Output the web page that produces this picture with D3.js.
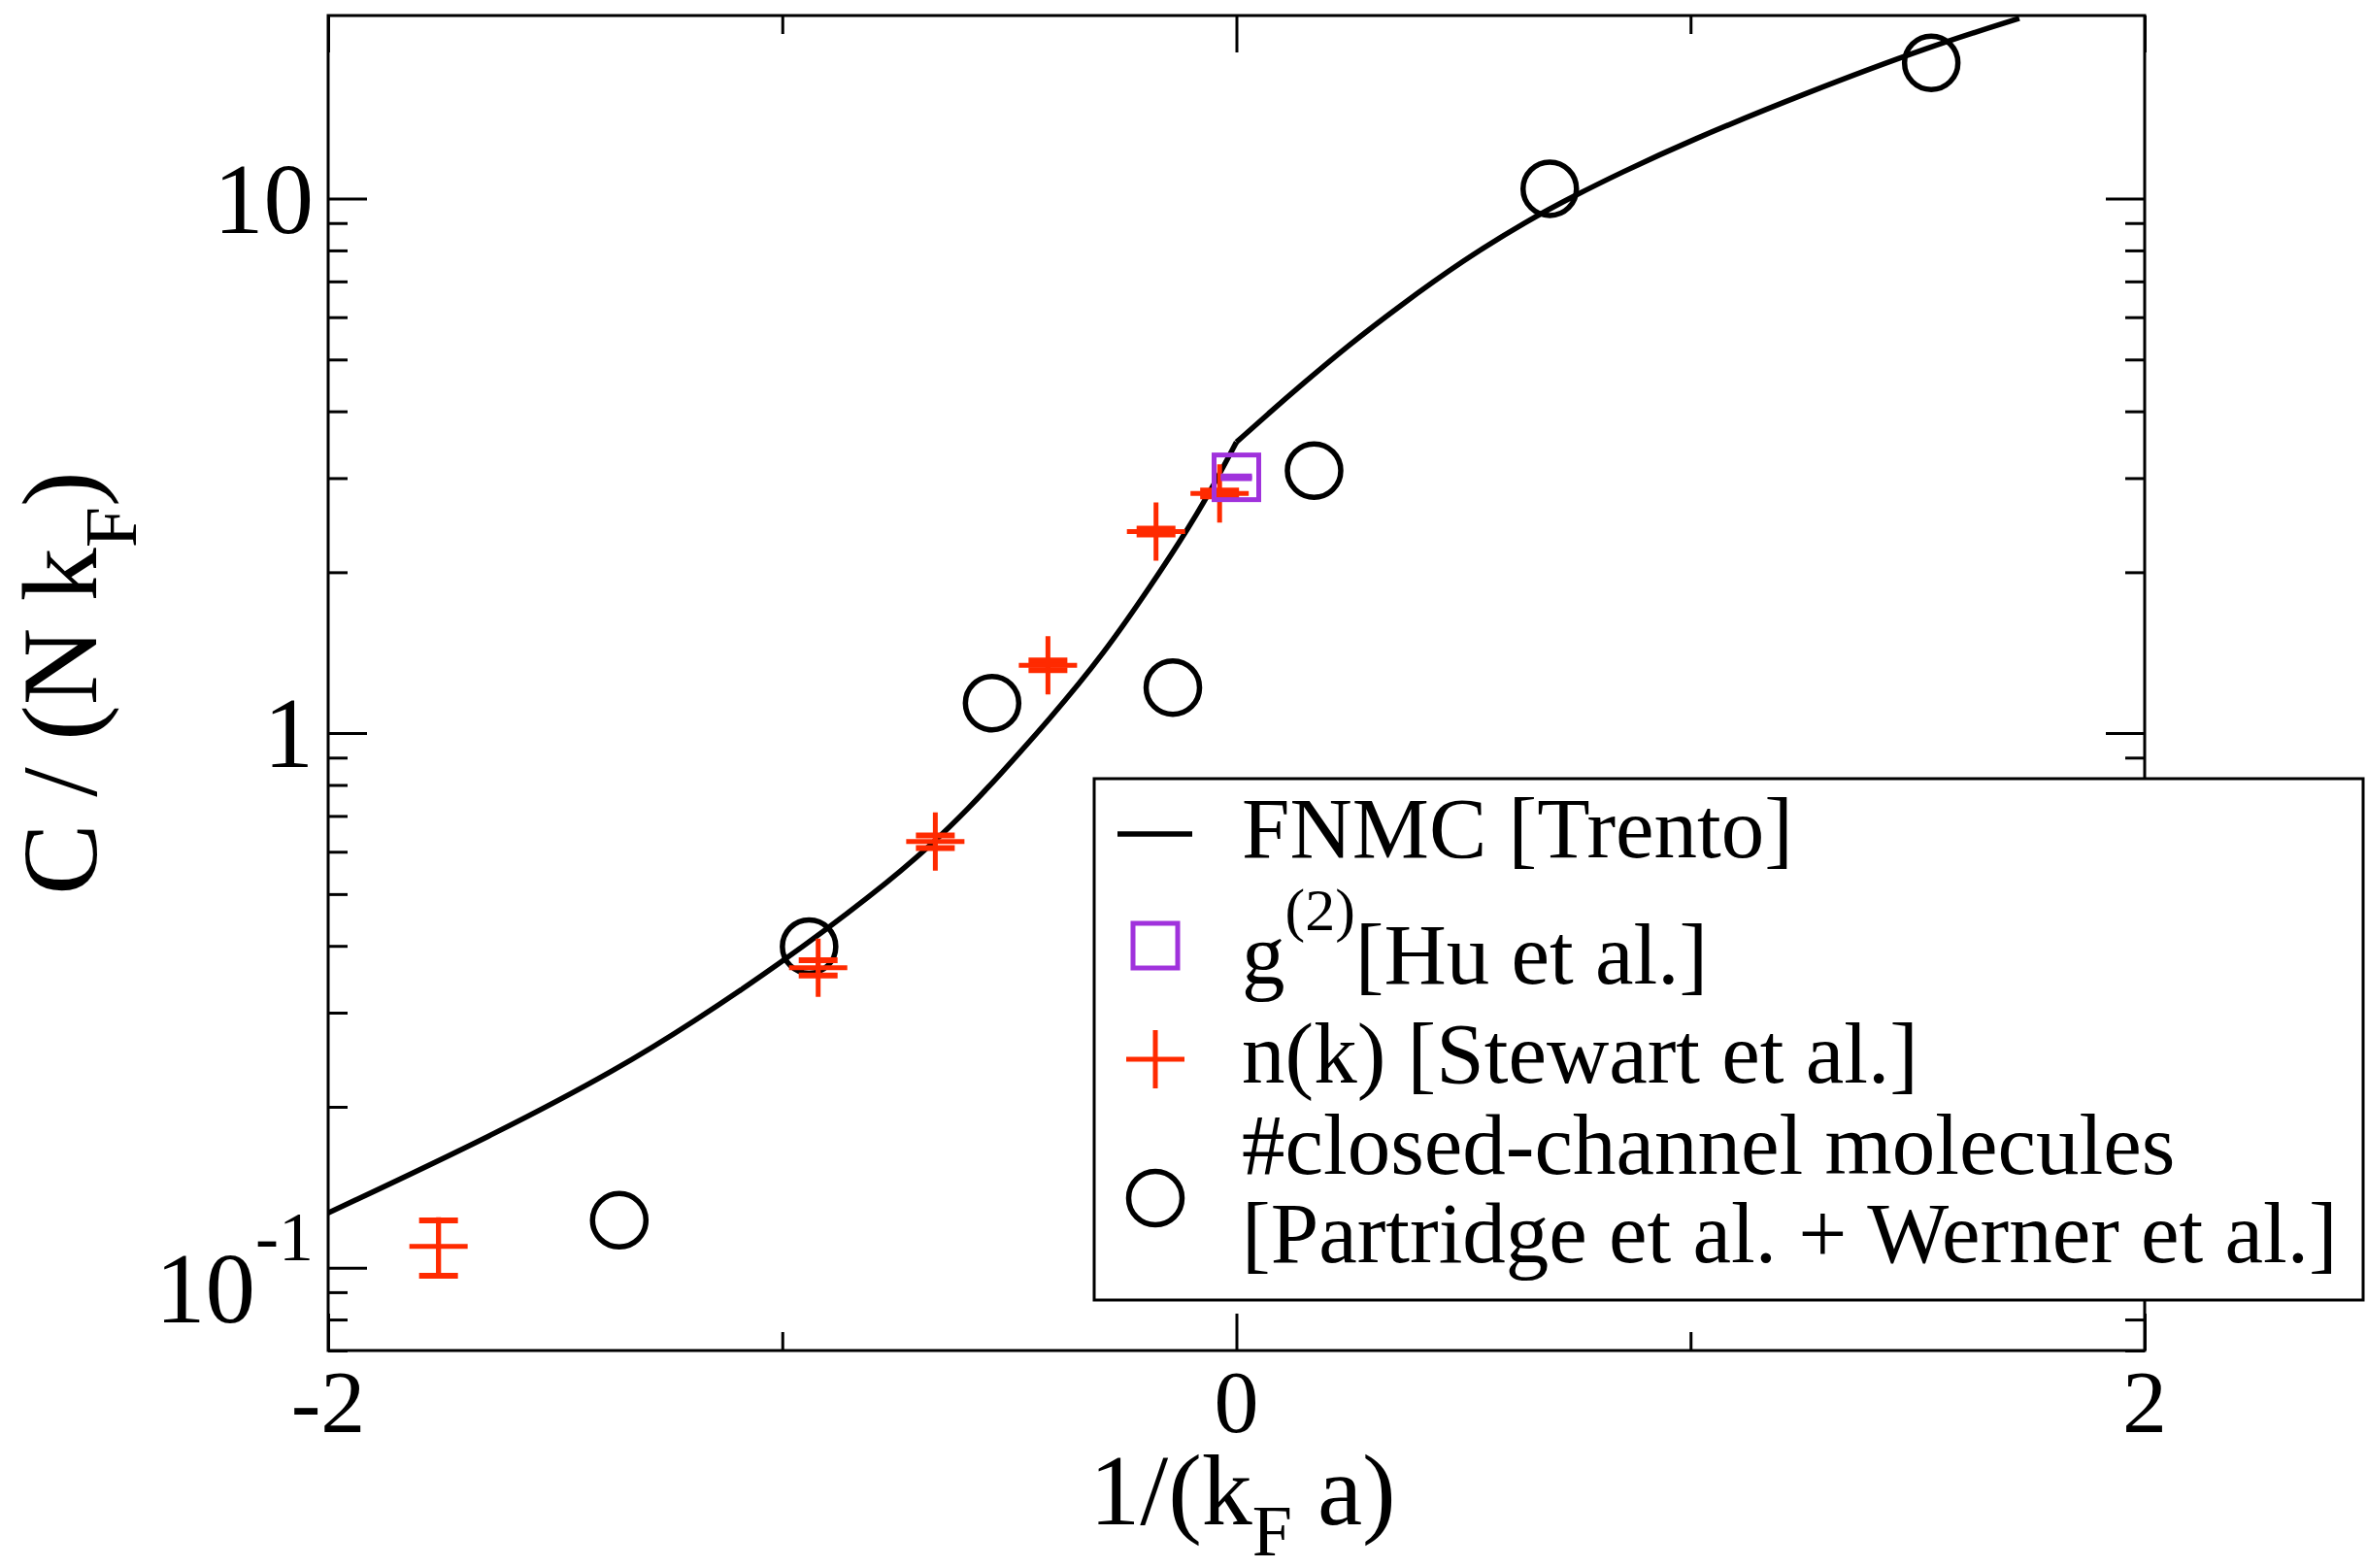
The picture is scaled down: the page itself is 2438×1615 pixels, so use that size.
<!DOCTYPE html>
<html>
<head>
<meta charset="utf-8">
<script src="https://cdn.jsdelivr.net/npm/d3@7"></script>
<style>
     body { margin: 0; background: #fff; }
     svg text { font-family: 'Liberation Serif', 'Times New Roman', serif; fill: #000; }
</style>
</head>
<body>
<div id="chart"></div>
<script>
// ── data ─────────────────────────────────────────────────
// FNMC curve, BCS side (up to unitarity) and BEC side (from unitarity)
const fnmcBcsX = [-2.0, -1.632, -1.359, -1.196, -1.012, -0.799, -0.664, -0.585, -0.532, -0.410, -0.293, -0.183, -0.125, -0.086, -0.050, 0.0];
const fnmcBcsY = [0.1266, 0.1777, 0.2361, 0.2881, 0.3667, 0.4995, 0.6261, 0.7311, 0.8157, 1.065, 1.403, 1.917, 2.280, 2.581, 2.911, 3.503];
const fnmcBecX = [0.0, 0.071, 0.142, 0.249, 0.356, 0.499, 0.641, 0.748, 0.841, 0.995, 1.252, 1.530, 1.724];
const fnmcBecY = [3.503, 3.964, 4.473, 5.335, 6.266, 7.665, 9.095, 10.16, 11.12, 12.80, 15.74, 19.30, 21.73];

// g(2) [Hu et al.]
const huX = [0.0];
const huY = [3.01];
const huErr = [0.01];

// n(k) [Stewart et al.]
const nkX = [-1.757, -0.921, -0.663, -0.415, -0.177, -0.037];
const nkY = [0.1096, 0.3641, 0.6268, 1.340, 2.382, 2.807];
const nkErr = [0.013, 0.012, 0.017, 0.028, 0.030, 0.035];

// #closed-channel molecules [Partridge + Werner]
const molX = [-1.359, -0.941, -0.538, -0.140, 0.171, 0.690, 1.530];
const molY = [0.1227, 0.3989, 1.138, 1.217, 3.099, 10.43, 17.95];

// ticks
const xMajor = [-2, 0, 2];
const xMinor = [-1, 1];
const yMajor = [0.1, 1, 10];
const yMinor = [0.07, 0.08, 0.09, 0.2, 0.3, 0.4, 0.5, 0.6, 0.7, 0.8, 0.9, 2, 3, 4, 5, 6, 7, 8, 9];
const yLabels = [{ v: 0.1, base: '10', sup: '-1' }, { v: 1, base: '1' }, { v: 10, base: '10' }];

const legendLabels = ['FNMC [Trento]', 'g', '[Hu et al.]', 'n(k) [Stewart et al.]',
     '#closed-channel molecules', '[Partridge et al. + Werner et al.]'];

const RED = '#ff2a00', PURPLE = '#a032dc';

// ── layout ───────────────────────────────────────────────
const W = 2438, H = 1615;
const P = { left: 338, right: 2209, top: 16, bottom: 1391 };

const x = d3.scaleLinear().domain([-2, 2]).range([P.left, P.right]);
const y = d3.scaleLog().domain([0.07, 22]).range([P.bottom, P.top]);

const svg = d3.select('#chart').append('svg')
     .attr('width', W).attr('height', H)
     .attr('viewBox', `0 0 ${W} ${H}`);

svg.append('rect').attr('width', W).attr('height', H).attr('fill', '#fff');

svg.append('clipPath').attr('id', 'plot-clip')
     .append('rect')
     .attr('x', P.left).attr('y', P.top)
     .attr('width', P.right - P.left).attr('height', P.bottom - P.top);

// ── ticks (inward, mirrored on all four sides) ───────────
function tickAxis(axisFn, scale, values, size, tx, ty) {
     const g = svg.append('g')
          .attr('transform', `translate(${tx},${ty})`)
          .call(axisFn(scale).tickValues(values).tickSizeInner(size).tickSizeOuter(0).tickFormat(''));
     g.select('.domain').remove();
     g.selectAll('line').attr('stroke', '#000').attr('stroke-width', 3);
}
tickAxis(d3.axisBottom, x, xMajor, -38, 0, P.bottom);
tickAxis(d3.axisBottom, x, xMinor, -19, 0, P.bottom);
tickAxis(d3.axisTop, x, xMajor, -38, 0, P.top);
tickAxis(d3.axisTop, x, xMinor, -19, 0, P.top);
tickAxis(d3.axisLeft, y, yMajor, -40, P.left, 0);
tickAxis(d3.axisLeft, y, yMinor, -20, P.left, 0);
tickAxis(d3.axisRight, y, yMajor, -40, P.right, 0);
tickAxis(d3.axisRight, y, yMinor, -20, P.right, 0);

svg.append('rect')
     .attr('x', P.left).attr('y', P.top)
     .attr('width', P.right - P.left).attr('height', P.bottom - P.top)
     .attr('fill', 'none').attr('stroke', '#000').attr('stroke-width', 3);

// ── tick labels ──────────────────────────────────────────
svg.selectAll('.xlbl')
     .data(xMajor)
     .join('text')
     .attr('class', 'xlbl')
     .attr('x', d => x(d)).attr('y', 1475)
     .attr('text-anchor', 'middle').attr('font-size', 92)
     .text(d => String(d));

yLabels.forEach(l => {
     const t = svg.append('text')
          .attr('x', 323)
          .attr('y', y(l.v) + (l.sup ? 56 : 35))
          .attr('text-anchor', 'end').attr('font-size', 103);
     t.append('tspan').text(l.base);
     if (l.sup) t.append('tspan').attr('font-size', 72).attr('dy', -64).text(l.sup);
});

// ── axis titles ──────────────────────────────────────────
const xt = svg.append('text')
     .attr('x', 1280).attr('y', 1570)
     .attr('text-anchor', 'middle').attr('font-size', 104);
xt.append('tspan').text('1/(k');
xt.append('tspan').attr('font-size', 74).attr('dy', 32).text('F');
xt.append('tspan').attr('dy', -32).text(' a)');

const yt = svg.append('text')
     .attr('transform', `translate(99,${(P.top + P.bottom) / 2}) rotate(-90)`)
     .attr('text-anchor', 'middle').attr('font-size', 110);
yt.append('tspan').text('C / (N k');
yt.append('tspan').attr('font-size', 76).attr('dy', 41).text('F');
yt.append('tspan').attr('dy', -41).text(')');

// ── FNMC curve ───────────────────────────────────────────
const line = d3.line().x(d => x(d[0])).y(d => y(d[1])).curve(d3.curveBasis);
const plot = svg.append('g').attr('clip-path', 'url(#plot-clip)');
[d3.zip(fnmcBcsX, fnmcBcsY), d3.zip(fnmcBecX, fnmcBecY)].forEach(seg => {
     plot.append('path')
          .attr('d', line(seg))
          .attr('fill', 'none').attr('stroke', '#000')
          .attr('stroke-width', 5.5).attr('stroke-linejoin', 'round');
});

// ── closed-channel molecules (circles) ───────────────────
plot.selectAll('.mol')
     .data(d3.zip(molX, molY))
     .join('circle')
     .attr('class', 'mol')
     .attr('cx', d => x(d[0])).attr('cy', d => y(d[1])).attr('r', 27.5)
     .attr('fill', 'none').attr('stroke', '#000').attr('stroke-width', 5.5);

// ── error bar helper ─────────────────────────────────────
function errBars(data, color, capHalf) {
     const g = plot.append('g').attr('stroke', color).attr('stroke-width', 5).attr('fill', 'none');
     data.forEach(([vx, vy, e]) => {
          const cx = x(vx), y0 = y(vy - e), y1 = y(vy + e);
          g.append('line').attr('x1', cx).attr('x2', cx).attr('y1', y0).attr('y2', y1);
          g.append('line').attr('x1', cx - capHalf).attr('x2', cx + capHalf).attr('y1', y0).attr('y2', y0).attr('stroke-width', 6);
          g.append('line').attr('x1', cx - capHalf).attr('x2', cx + capHalf).attr('y1', y1).attr('y2', y1).attr('stroke-width', 6);
     });
}

// ── n(k) (plus with error bars) ──────────────────────────
const nkData = d3.zip(nkX, nkY, nkErr);
errBars(nkData, RED, 20);
plot.selectAll('.nk')
     .data(nkData)
     .join('path')
     .attr('class', 'nk')
     .attr('transform', d => `translate(${x(d[0])},${y(d[1])})`)
     .attr('d', 'M-30,0H30M0,-30V30')
     .attr('stroke', RED).attr('stroke-width', 5).attr('fill', 'none');

// ── g(2) (square with error bar) ─────────────────────────
const huData = d3.zip(huX, huY, huErr);
errBars(huData, PURPLE, 16);
plot.selectAll('.hu')
     .data(huData)
     .join('rect')
     .attr('class', 'hu')
     .attr('x', d => x(d[0]) - 23).attr('y', d => y(d[1]) - 23)
     .attr('width', 46).attr('height', 46)
     .attr('fill', 'none').attr('stroke', PURPLE).attr('stroke-width', 5);

// ── legend ───────────────────────────────────────────────
const lg = svg.append('g');
lg.append('rect')
     .attr('x', 1127).attr('y', 802).attr('width', 1307).attr('height', 537)
     .attr('fill', '#fff').attr('stroke', '#000').attr('stroke-width', 3);

const symX = 1190, txtX = 1279;
lg.append('line')
     .attr('x1', 1151).attr('x2', 1228).attr('y1', 859).attr('y2', 859)
     .attr('stroke', '#000').attr('stroke-width', 5.5);
lg.append('rect')
     .attr('x', symX - 23).attr('y', 974 - 23).attr('width', 46).attr('height', 46)
     .attr('fill', 'none').attr('stroke', PURPLE).attr('stroke-width', 5);
lg.append('path')
     .attr('transform', `translate(${symX},1091)`)
     .attr('d', 'M-30,0H30M0,-30V30')
     .attr('stroke', RED).attr('stroke-width', 5).attr('fill', 'none');
lg.append('circle')
     .attr('cx', symX).attr('cy', 1234).attr('r', 27.5)
     .attr('fill', 'none').attr('stroke', '#000').attr('stroke-width', 5.5);

lg.append('text').attr('x', txtX).attr('y', 883).attr('font-size', 89).text(legendLabels[0]);
const gt = lg.append('text').attr('x', txtX).attr('y', 1013).attr('font-size', 89);
gt.append('tspan').text(legendLabels[1]);
gt.append('tspan').attr('font-size', 62).attr('dy', -55).text('(2)');
gt.append('tspan').attr('dy', 55).text(legendLabels[2]);
lg.append('text').attr('x', txtX).attr('y', 1115).attr('font-size', 89).text(legendLabels[3]);
lg.append('text').attr('x', txtX).attr('y', 1209).attr('font-size', 89).text(legendLabels[4]);
lg.append('text').attr('x', txtX).attr('y', 1300).attr('font-size', 89).text(legendLabels[5]);
</script>
</body>
</html>
